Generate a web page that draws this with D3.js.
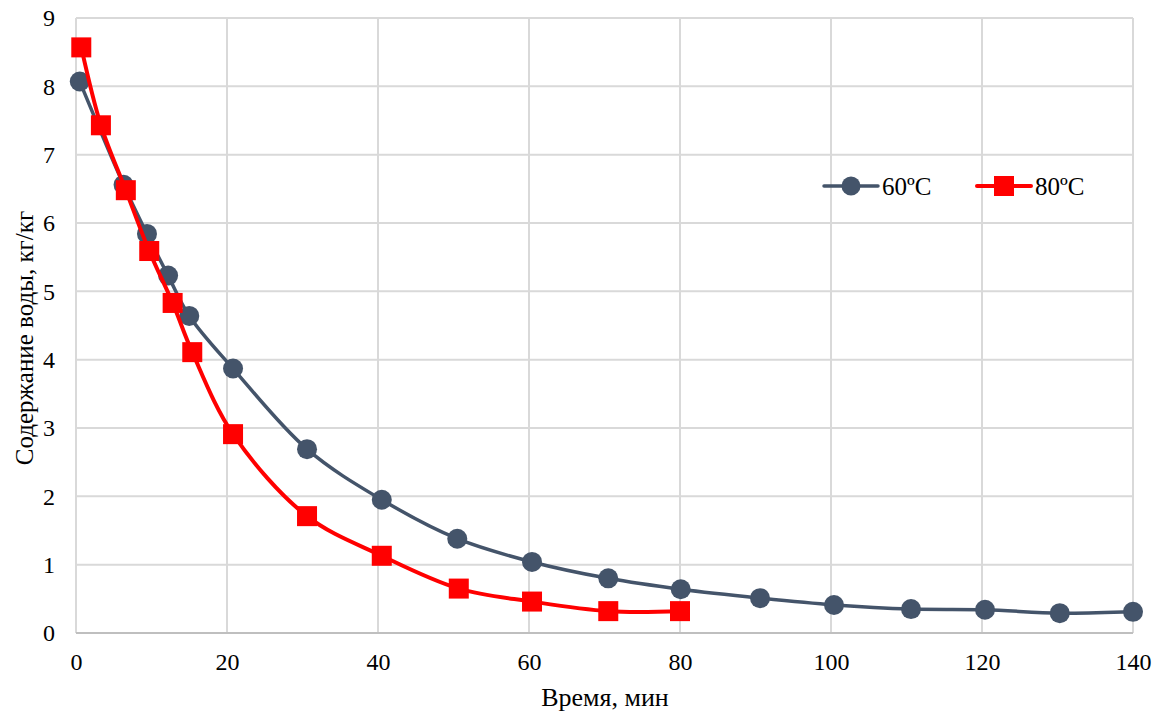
<!DOCTYPE html>
<html>
<head>
<meta charset="utf-8">
<script src="https://cdn.jsdelivr.net/npm/d3@7"></script>
<style>
  body { margin: 0; background: #fff; }
  svg text { font-family: "Liberation Serif", "Times New Roman", serif; fill: #000; }
</style>
</head>
<body>
<div class="chart"></div>
<script>
// data
var time60 = [0.5, 6.3, 9.4, 12.2, 15, 20.8, 30.6, 40.5, 50.5, 60.4, 70.5, 80.1, 90.6, 100.4, 110.6, 120.4, 130.3, 140];
var water60 = [8.07, 6.56, 5.84, 5.23, 4.64, 3.87, 2.69, 1.95, 1.38, 1.04, 0.80, 0.64, 0.51, 0.41, 0.35, 0.34, 0.29, 0.31];
var time80 = [0.7, 3.3, 6.6, 9.7, 12.8, 15.4, 20.8, 30.6, 40.5, 50.7, 60.4, 70.5, 80];
var water80 = [8.57, 7.43, 6.48, 5.59, 4.83, 4.11, 2.91, 1.71, 1.13, 0.65, 0.46, 0.32, 0.32];
var xTicks = [0, 20, 40, 60, 80, 100, 120, 140];
var yTicks = [0, 1, 2, 3, 4, 5, 6, 7, 8, 9];
var seriesNames = ["60ºC", "80ºC"];

var margin = {top: 18, right: 27, bottom: 82, left: 76};
var width = 1160 - margin.left - margin.right;
var height = 715 - margin.top - margin.bottom;

var svg = d3.select(".chart").append("svg")
    .attr("width", 1160)
    .attr("height", 715);

var g = svg.append("g")
    .attr("transform", "translate(" + margin.left + "," + margin.top + ")");

var xScale = d3.scaleLinear().domain([0, 140]).range([0, width]);
var yScale = d3.scaleLinear().domain([0, 9]).range([height, 0]);

// grid
g.selectAll(".vgrid").data(xTicks).enter().append("line")
    .attr("x1", function(d) { return xScale(d); })
    .attr("x2", function(d) { return xScale(d); })
    .attr("y1", 0).attr("y2", height)
    .attr("stroke", "#d9d9d9").attr("stroke-width", 2);
g.selectAll(".hgrid").data(yTicks).enter().append("line")
    .attr("x1", 0).attr("x2", width)
    .attr("y1", function(d) { return yScale(d); })
    .attr("y2", function(d) { return yScale(d); })
    .attr("stroke", "#d9d9d9").attr("stroke-width", 2);
g.append("line")
    .attr("x1", 0).attr("x2", width)
    .attr("y1", height).attr("y2", height)
    .attr("stroke", "#bfbfbf").attr("stroke-width", 2);

// axes (labels only)
var xAxis = d3.axisBottom(xScale).tickValues(xTicks).tickSize(0).tickPadding(20);
var yAxis = d3.axisLeft(yScale).tickValues(yTicks).tickSize(0).tickPadding(21);

var gx = g.append("g").attr("transform", "translate(0," + height + ")").call(xAxis);
var gy = g.append("g").call(yAxis);
[gx, gy].forEach(function(a) {
    a.attr("font-family", null).attr("font-size", null);
    a.select(".domain").remove();
    a.selectAll("text")
        .style("font-size", "24px")
        .attr("fill", "#000");
});

svg.append("text")
    .attr("x", 605)
    .attr("y", 706)
    .attr("text-anchor", "middle")
    .style("font-size", "26px")
    .text("Время, мин");

svg.append("text")
    .attr("transform", "translate(33,338) rotate(-90)")
    .attr("text-anchor", "middle")
    .style("font-size", "25px")
    .text("Содержание воды, кг/кг");

var line = d3.line()
    .x(function(d) { return xScale(d[0]); })
    .y(function(d) { return yScale(d[1]); })
    .curve(d3.curveCatmullRom.alpha(0.5));

var data60 = time60.map(function(t, i) { return [t, water60[i]]; });
var data80 = time80.map(function(t, i) { return [t, water80[i]]; });

var col60 = "#44546a";
var col80 = "#ff0000";

g.append("path").datum(data60)
    .attr("d", line).attr("fill", "none")
    .attr("stroke", col60).attr("stroke-width", 3.5);
g.selectAll(".dot").data(data60).enter().append("circle")
    .attr("class", "dot")
    .attr("cx", function(d) { return xScale(d[0]); })
    .attr("cy", function(d) { return yScale(d[1]); })
    .attr("r", 10)
    .attr("fill", col60);

g.append("path").datum(data80)
    .attr("d", line).attr("fill", "none")
    .attr("stroke", col80).attr("stroke-width", 4);
g.selectAll(".sq").data(data80).enter().append("rect")
    .attr("class", "sq")
    .attr("x", function(d) { return xScale(d[0]) - 10; })
    .attr("y", function(d) { return yScale(d[1]) - 10; })
    .attr("width", 20).attr("height", 20)
    .attr("fill", col80);

// legend
var legend = svg.append("g").attr("transform", "translate(824,186)");
var l1 = legend.append("g");
l1.append("line").attr("x1", 0).attr("x2", 54).attr("stroke", col60).attr("stroke-width", 3.5).attr("stroke-linecap", "round");
l1.append("circle").attr("cx", 27).attr("r", 9.5).attr("fill", col60);
l1.append("text").attr("x", 58).attr("y", 9).style("font-size", "25px").text(seriesNames[0]);

var l2 = legend.append("g").attr("transform", "translate(153,0)");
l2.append("line").attr("x1", 0).attr("x2", 54).attr("stroke", col80).attr("stroke-width", 4).attr("stroke-linecap", "round");
l2.append("rect").attr("x", 17).attr("y", -10).attr("width", 20).attr("height", 20).attr("fill", col80);
l2.append("text").attr("x", 58).attr("y", 9).style("font-size", "25px").text(seriesNames[1]);
</script>
</body>
</html>
